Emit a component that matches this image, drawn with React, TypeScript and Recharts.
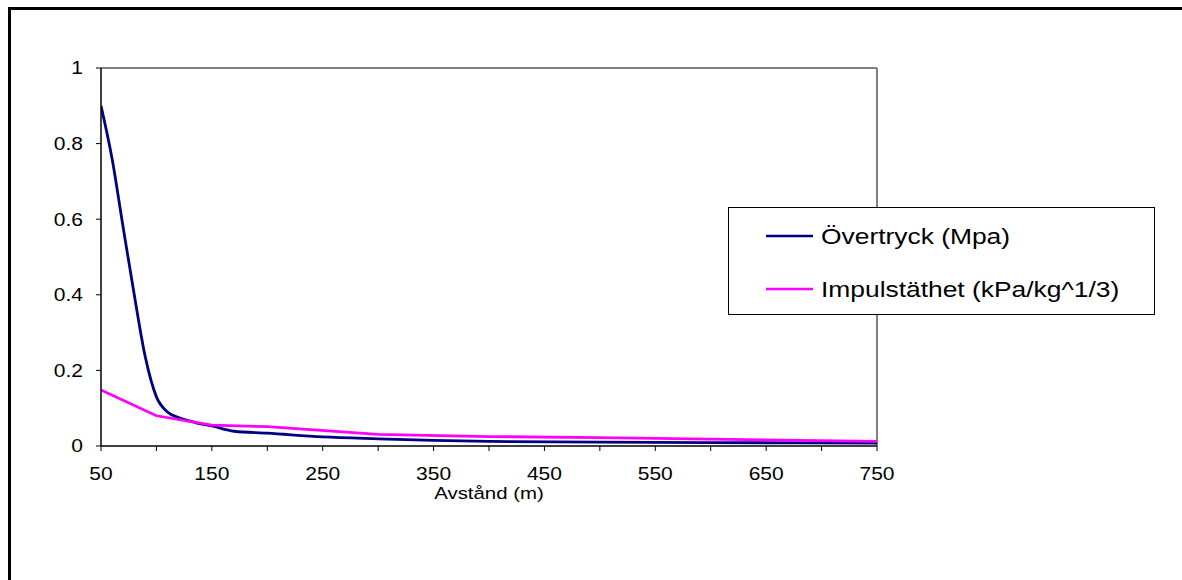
import React from 'react';
import { LineChart, Line, XAxis, YAxis, ReferenceLine, Legend, Label } from 'recharts';

// Övertryck (Mpa)
const pressureDist = [50, 60, 70, 80, 90, 100, 110, 120, 135, 150, 170, 200, 250, 300, 350, 400, 500, 600, 750];
const pressureVals = [0.9, 0.76, 0.578, 0.4, 0.235, 0.13, 0.09, 0.075, 0.062, 0.053, 0.039, 0.034, 0.024, 0.019, 0.015, 0.012, 0.01, 0.009, 0.008];

// Impulstäthet (kPa/kg^1/3)
const impulseDist = [50, 100, 150, 200, 300, 400, 500, 600, 750];
const impulseVals = [0.148, 0.08, 0.055, 0.051, 0.031, 0.025, 0.022, 0.018, 0.012];

const xTicks = [50, 100, 150, 200, 250, 300, 350, 400, 450, 500, 550, 600, 650, 700, 750];
const xTickLabels = ['50', '', '150', '', '250', '', '350', '', '450', '', '550', '', '650', '', '750'];
const yTicks = [0, 0.2, 0.4, 0.6, 0.8, 1];
const yTickLabels = ['0', '0.2', '0.4', '0.6', '0.8', '1'];

const seriesNames = ['Övertryck (Mpa)', 'Impulstäthet (kPa/kg^1/3)'];
const seriesColors = ['#000080', '#FF00FF'];
const xTitle = 'Avstånd (m)';

const pressureData = pressureDist.map((x, i) => ({ x, v: pressureVals[i] }));
const impulseData = impulseDist.map((x, i) => ({ x, v: impulseVals[i] }));

const FONT = '"Liberation Sans", Arial, sans-serif';

const XTick = (props: any) => {
  const { x, y, payload } = props;
  const idx = xTicks.indexOf(payload.value);
  const label = idx >= 0 ? xTickLabels[idx] : '';
  if (!label) return null;
  return (
    <g transform={`translate(${x},${y + 29})`}>
      <text transform="scale(1.2,1)" textAnchor="middle" fontFamily={FONT} fontSize={17.5} fill="#000">
        {label}
      </text>
    </g>
  );
};

const YTick = (props: any) => {
  const { x, y, payload } = props;
  const idx = yTicks.indexOf(payload.value);
  const label = idx >= 0 ? yTickLabels[idx] : String(payload.value);
  return (
    <g transform={`translate(${x - 13},${y})`}>
      <text transform="scale(1.2,1)" textAnchor="end" dy="0.36em" fontFamily={FONT} fontSize={17.5} fill="#000">
        {label}
      </text>
    </g>
  );
};

const AxisTitle = (props: any) => {
  const vb = props.viewBox || {};
  const cx = (vb.x || 0) + (vb.width || 0) / 2;
  const top = vb.y || 0;
  return (
    <g transform={`translate(${cx},${top + 53})`}>
      <text transform="scale(1.2,1)" textAnchor="middle" fontFamily={FONT} fontSize={17} fill="#000">
        {xTitle}
      </text>
    </g>
  );
};

const LegendBox = () => (
  <svg width={427} height={108} style={{ display: 'block' }}>
    {seriesNames.map((name, i) => {
      const cy = i === 0 ? 28 : 81;
      return (
        <g key={name}>
          <line x1={37} x2={84} y1={cy} y2={cy} stroke={seriesColors[i]} strokeWidth={2.5} />
          <g transform={`translate(92,${cy})`}>
            <text transform="scale(1.2,1)" dy="0.36em" fontFamily={FONT} fontSize={22} fill="#000">
              {name}
            </text>
          </g>
        </g>
      );
    })}
  </svg>
);

export default function App() {
  return (
    <div style={{ position: 'fixed', left: 0, top: 0, width: 1182, height: 580, background: '#fff', overflow: 'hidden' }}>
      <style>{'html,body{margin:0;padding:0;overflow:hidden;background:#fff}'}</style>
      <div style={{ position: 'absolute', top: 7, left: 8, width: 1174, height: 3, background: '#000', zIndex: 2 }} />
      <div style={{ position: 'absolute', top: 7, left: 8, width: 3, height: 573, background: '#000', zIndex: 2 }} />
      <div style={{ position: 'absolute', top: 8, left: 8 }}>
        <LineChart width={1174} height={572} margin={{ top: 60, right: 305, bottom: 8, left: 0 }}>
          <XAxis
            type="number"
            dataKey="x"
            domain={[50, 750]}
            ticks={xTicks}
            interval={0}
            allowDataOverflow
            height={126}
            tickSize={5}
            tickMargin={0}
            axisLine={{ stroke: '#000', strokeWidth: 1.5 }}
            tickLine={{ stroke: '#000', strokeWidth: 1 }}
            tick={<XTick />}
          >
            <Label content={<AxisTitle />} />
          </XAxis>
          <YAxis
            type="number"
            domain={[0, 1]}
            ticks={yTicks}
            interval={0}
            allowDataOverflow
            width={93}
            tickSize={5}
            tickMargin={0}
            axisLine={{ stroke: '#000', strokeWidth: 1.5 }}
            tickLine={{ stroke: '#000', strokeWidth: 1 }}
            tick={<YTick />}
          />
          <ReferenceLine y={1} stroke="#808080" strokeWidth={2} />
          <ReferenceLine x={750} stroke="#808080" strokeWidth={2} />
          <Line
            data={pressureData}
            dataKey="v"
            name={seriesNames[0]}
            type="monotone"
            stroke={seriesColors[0]}
            strokeWidth={2.8}
            dot={false}
            activeDot={false}
            isAnimationActive={false}
          />
          <Line
            data={impulseData}
            dataKey="v"
            name={seriesNames[1]}
            type="linear"
            stroke={seriesColors[1]}
            strokeWidth={2.8}
            dot={false}
            activeDot={false}
            isAnimationActive={false}
          />
          <Legend
            layout="horizontal"
            align="center"
            verticalAlign="middle"
            content={<LegendBox />}
            wrapperStyle={{
              position: 'absolute',
              left: 720,
              top: 199,
              width: 427,
              height: 108,
              border: '1px solid #000',
              boxSizing: 'border-box',
              background: '#fff',
            }}
          />
        </LineChart>
      </div>
    </div>
  );
}
